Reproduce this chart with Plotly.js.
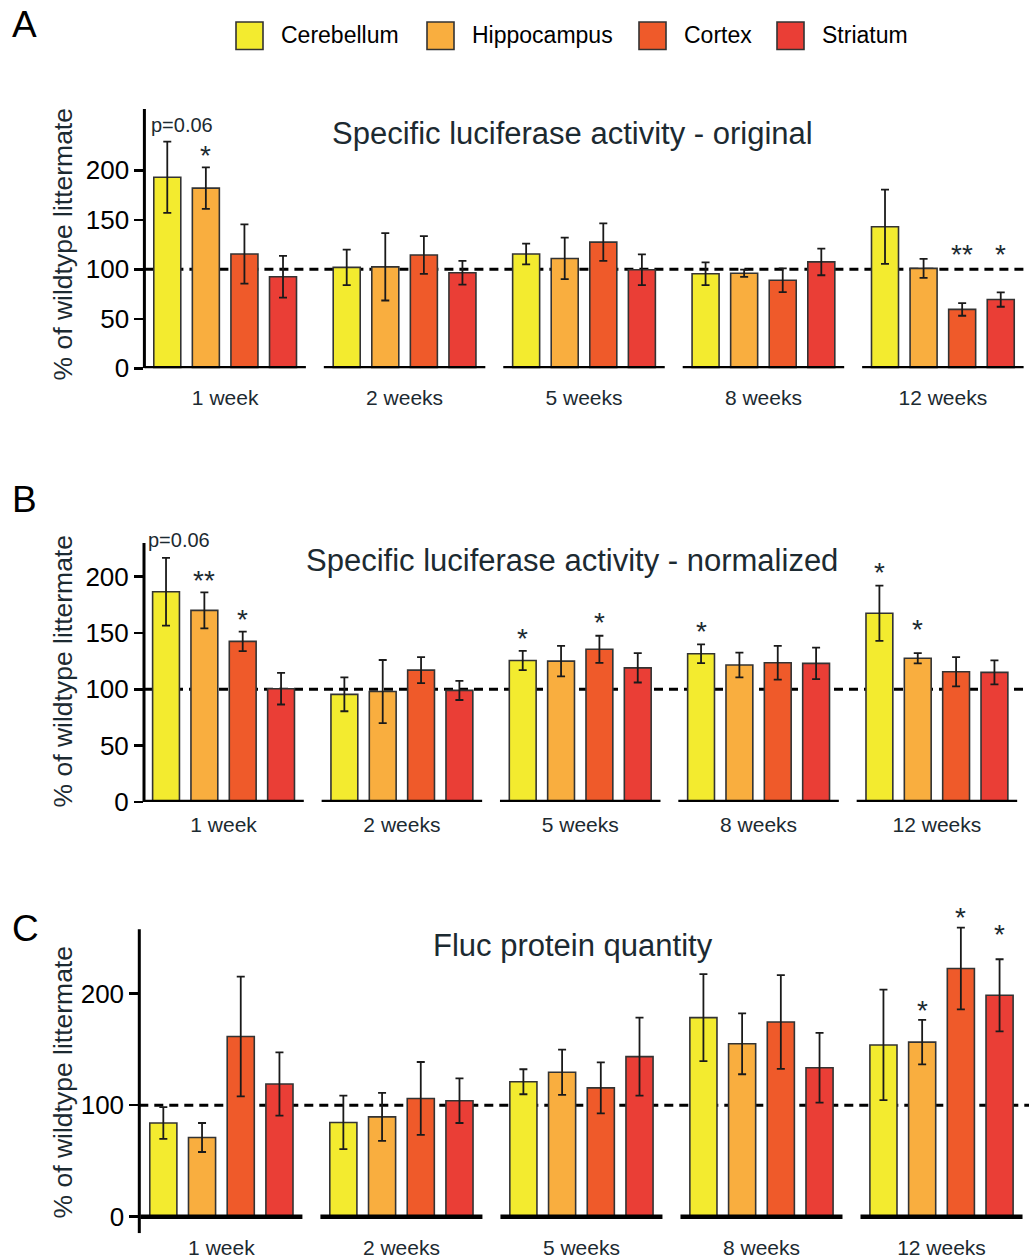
<!DOCTYPE html>
<html>
<head>
<meta charset="utf-8">
<script src="https://cdn.plot.ly/plotly-3.0.1.min.js"></script>
<style>html,body{margin:0;padding:0;background:#fff;}#chart{width:1029px;height:1258px;}</style>
</head>
<body>
<div id="chart"></div>
<script>
// ---------- data ----------
const groups = ['1 week', '2 weeks', '5 weeks', '8 weeks', '12 weeks'];
const regions = ['Cerebellum', 'Hippocampus', 'Cortex', 'Striatum'];

// Panel A: specific luciferase activity - original (% of wildtype littermate)
const cerA = [193, 102, 115.5, 95.5, 143];
const hipA = [182, 102.5, 111, 96, 101];
const corA = [115.5, 114.5, 127.5, 89, 59.5];
const strA = [92.5, 96.5, 99.5, 107.5, 69.5];
const cerAErr = [36, 18, 10.5, 11.5, 37.5];
const hipAErr = [21, 34, 21, 3.7, 9.6];
const corAErr = [30, 19, 19, 12, 6.4];
const strAErr = [21, 12, 15.5, 13.5, 7.3];

// Panel B: specific luciferase activity - normalized
const cerB = [186.5, 95.5, 125.5, 131.5, 167.5];
const hipB = [170, 98, 125, 121.5, 127.5];
const corB = [142.5, 117, 135.5, 123.5, 115.5];
const strB = [100.5, 99, 119, 123, 115];
const cerBErr = [30, 15, 8.5, 8.3, 24.5];
const hipBErr = [16, 28, 13.5, 11, 4.6];
const corBErr = [8.6, 11.5, 12, 15, 13];
const strBErr = [14, 8.5, 13, 14, 10.7];

// Panel C: Fluc protein quantity
const cerC = [84, 84.5, 121, 178.5, 154];
const hipC = [71, 89.5, 129.5, 155, 156.5];
const corC = [161.5, 106, 115.5, 174.5, 222.5];
const strC = [119, 104, 143.5, 133.5, 198.5];
const cerCErr = [14.3, 24, 11.2, 39, 49.5];
const hipCErr = [13, 21.5, 20.3, 27.3, 20];
const corCErr = [53.7, 32.7, 22.8, 42, 36.6];
const strCErr = [28.3, 20, 35, 31.3, 32.3];

// significance marks: [group index, region index, label, height]
const sigA = [[0, 1, '*', 218.5], [4, 2, '**', 118.5], [4, 3, '*', 118.5]];
const sigB = [[0, 1, '**', 199.4], [0, 2, '*', 165], [2, 0, '*', 147.3], [2, 2, '*', 161.5],
              [3, 0, '*', 153.5], [4, 0, '*', 205.9], [4, 1, '*', 155.6]];
const sigC = [[4, 1, '*', 187.7], [4, 2, '*', 271], [4, 3, '*', 255.6]];
const pNoteA = 'p=0.06';
const pNoteB = 'p=0.06';

const tickValsAB = [0, 50, 100, 150, 200];
const tickValsC = [0, 100, 200];

const titles = ['Specific luciferase activity - original',
                'Specific luciferase activity - normalized',
                'Fluc protein quantity'];
const yTitle = '% of wildtype littermate';
const panelLetters = ['A', 'B', 'C'];

// ---------- styles ----------
const colors = ['#F3EB2F', '#F9AE3F', '#EF5A2A', '#EA3E36'];
const FONT = '"Liberation Sans", Arial, Helvetica, sans-serif';
const DARK = '#1c2a31';
const BARGAP = 0.14, GROUPGAP = 0.30;

const panels = [
  {vals: [cerA, hipA, corA, strA], errs: [cerAErr, hipAErr, corAErr, strAErr], sig: sigA, xa: 'x', ya: 'y', axisSpan: [0, 262]},
  {vals: [cerB, hipB, corB, strB], errs: [cerBErr, hipBErr, corBErr, strBErr], sig: sigB, xa: 'x2', ya: 'y2', axisSpan: [0, 229.8]},
  {vals: [cerC, hipC, corC, strC], errs: [cerCErr, hipCErr, corCErr, strCErr], sig: sigC, xa: 'x3', ya: 'y3', axisSpan: [-14.9, 257.7]}
];

const traces = [];
panels.forEach((p, pi) => {
  regions.forEach((r, k) => {
    traces.push({
      type: 'bar', name: r, x: groups, y: p.vals[k],
      xaxis: p.xa, yaxis: p.ya, showlegend: false,
      marker: {color: colors[k], line: {color: '#333', width: 1.6}},
      error_y: {type: 'data', array: p.errs[k], visible: true, color: '#1a1a1a', thickness: 1.8, width: 4},
      cliponaxis: false, hoverinfo: 'x+y+name'
    });
  });
});

const slot = (1 - BARGAP) / regions.length;
const off = k => (k - (regions.length - 1) / 2) * slot;

const shapes = [];
const annotations = [];

panels.forEach((p, pi) => {
  const xr = p.xa, yr = p.ya;
  // y axis line
  shapes.push({type: 'line', xref: xr + ' domain', yref: yr, x0: 0, x1: 0, y0: p.axisSpan[0], y1: p.axisSpan[1],
               line: {color: '#000', width: 3}, layer: 'above'});
  // dashed reference at 100
  shapes.push({type: 'line', xref: xr + ' domain', yref: yr, x0: 0, x1: 1, y0: 100, y1: 100,
               line: {color: '#000', width: 3, dash: '9px,6px'}, layer: 'below'});
  // thick baseline under each group
  groups.forEach((g, i) => {
    shapes.push({type: 'line', xref: xr, yref: yr, x0: i - 0.45, x1: i + 0.45, y0: 0, y1: 0,
                 line: {color: '#000', width: 4.5}, layer: 'above'});
  });
  // significance
  p.sig.forEach(s => {
    annotations.push({xref: xr, yref: yr, x: s[0] + off(s[1]), y: s[3], text: s[2], showarrow: false,
                      yanchor: 'middle', yshift: -3, font: {family: FONT, size: 28, color: DARK}});
  });
});

// p-value notes
annotations.push({xref: 'x', yref: 'y', x: off(0) + 0.08, y: 246, text: pNoteA, showarrow: false,
                  font: {family: FONT, size: 20, color: DARK}});
annotations.push({xref: 'x2', yref: 'y2', x: off(0) + 0.07, y: 232, text: pNoteB, showarrow: false,
                  font: {family: FONT, size: 20, color: DARK}});

// panel titles
const titleY = [133, 560, 945];
const titleX = [572, 572, 573];
titles.forEach((t, i) => {
  annotations.push({xref: 'paper', yref: 'paper', x: titleX[i] / 1029, y: 1 - titleY[i] / 1258,
                    xanchor: 'center', yanchor: 'middle', text: t, showarrow: false,
                    font: {family: FONT, size: 31, color: DARK}});
});
// y axis titles
const yTitleY = [245, 672, 1083];
yTitleY.forEach(yy => {
  annotations.push({xref: 'paper', yref: 'paper', x: 62.5 / 1029, y: 1 - yy / 1258,
                    xanchor: 'center', yanchor: 'middle', textangle: -90, text: yTitle, showarrow: false,
                    font: {family: FONT, size: 26.5, color: DARK}});
});
// panel letters
const letterPos = [[24, 24], [24, 500], [25, 928]];
panelLetters.forEach((L, i) => {
  annotations.push({xref: 'paper', yref: 'paper', x: letterPos[i][0] / 1029, y: 1 - letterPos[i][1] / 1258,
                    xanchor: 'center', yanchor: 'middle', text: L, showarrow: false,
                    font: {family: FONT, size: 37, color: '#000'}});
});
// legend (custom, large swatches)
const legendX = [236, 427, 639, 777];
regions.forEach((r, k) => {
  const x0 = legendX[k];
  shapes.push({type: 'rect', xref: 'paper', yref: 'paper',
               x0: x0 / 1029, x1: (x0 + 27) / 1029, y0: 1 - 49.5 / 1258, y1: 1 - 22 / 1258,
               fillcolor: colors[k], line: {color: '#333', width: 1.6}});
  annotations.push({xref: 'paper', yref: 'paper', x: (x0 + 43) / 1029, y: 1 - 35 / 1258,
                    xanchor: 'left', yanchor: 'middle', text: r, showarrow: false,
                    font: {family: FONT, size: 23, color: '#000'}});
});

function yaxis(domain, range, tickvals, anchor) {
  return {domain: domain, range: range, anchor: anchor, tickmode: 'array', tickvals: tickvals,
          showline: false, ticks: 'outside', ticklen: 9, tickwidth: 2.5,
          tickcolor: '#000', showgrid: false, zeroline: false, ticklabelstandoff: 0,
          tickfont: {family: FONT, size: 26, color: '#000'}};
}
function xaxis(domain, range, anchor, standoff) {
  return {domain: domain, range: range, anchor: anchor, type: 'category', showline: false, ticks: '',
          showgrid: false, zeroline: false, ticklabelstandoff: standoff,
          tickfont: {family: FONT, size: 21, color: DARK}};
}

const layout = {
  width: 1029, height: 1258,
  margin: {l: 0, r: 0, t: 0, b: 0},
  paper_bgcolor: '#fff', plot_bgcolor: 'rgba(0,0,0,0)',
  barmode: 'group', bargap: BARGAP, bargroupgap: GROUPGAP,
  showlegend: false,
  xaxis: xaxis([144.4 / 1029, 1], [-0.45, 4.48], 'y', 15),
  yaxis: yaxis([0.70723, 0.92361], [0, 275], tickValsAB, 'x'),
  xaxis2: xaxis([144 / 1029, 0.99718], [-0.446, 4.5], 'y2', 8),
  yaxis2: yaxis([0.36248, 0.58649], [0, 250], tickValsAB, 'x2'),
  xaxis3: xaxis([139.3 / 1029, 1], [-0.456, 4.486], 'y3', 0),
  yaxis3: yaxis([0.01963, 0.28108], [-14.9, 280], tickValsC, 'x3'),
  shapes: shapes, annotations: annotations
};

Plotly.newPlot('chart', traces, layout, {displayModeBar: false, staticPlot: true});
</script>
</body>
</html>
